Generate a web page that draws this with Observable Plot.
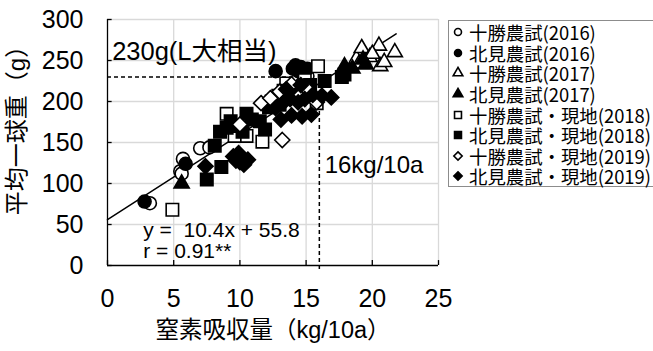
<!DOCTYPE html>
<html><head><meta charset="utf-8">
<script src="https://cdn.jsdelivr.net/npm/d3@7"></script>
<script src="https://cdn.jsdelivr.net/npm/@observablehq/plot@0.6"></script>
<style>
body{margin:0;background:#fff;}
#wrap{position:relative;width:653px;height:351px;overflow:hidden;background:#fff;}
#legend{position:absolute;left:448px;top:20px;width:215px;height:167px;border:1px solid #8c8c8c;box-sizing:border-box;background:#fff;font-family:"Noto Sans CJK JP",sans-serif;font-size:18.4px;color:#000;padding-top:1px;}
.row{height:20.6px;display:flex;align-items:center;white-space:nowrap;overflow:visible;}
.row svg{margin-left:2px;margin-right:4px;flex:none;}
.row span{display:block;height:18px;line-height:18px;}
</style></head>
<body><div id="wrap"><div id="chart"></div><div id="legend"></div></div>
<script>
// ---- data ----
const seriesNames = ["十勝農試(2016)", "北見農試(2016)", "十勝農試(2017)", "北見農試(2017)", "十勝農試・現地(2018)", "北見農試・現地(2018)", "十勝農試・現地(2019)", "北見農試・現地(2019)"];
const tokachi2016 = [[3.2,76],[5.5,115],[5.7,130],[5.6,112],[7.0,143],[7.7,144],[15.1,231],[14.7,222]];
const kitami2016 = [[2.8,78],[5.9,124],[12.7,237],[14.2,244],[14.4,237],[14.6,242],[15.1,240],[14.0,240]];
const tokachi2017 = [[18.8,252],[19.2,265],[19.8,254],[20.5,268],[21.7,260],[20.6,243],[20.9,248],[19.0,246],[20.0,258]];
const kitami2017 = [[5.6,100],[17.9,243],[19.3,251],[19.5,245],[18.5,240]];
const tokachi2018 = [[4.9,68],[9.0,185],[10.5,158],[11.7,151],[9.6,158],[15.9,243],[15.8,198],[14.9,226],[13.5,222]];
const kitami2018 = [[7.5,105],[8.6,120],[8.1,146],[8.5,163],[9.0,168],[9.3,176],[9.8,170],[10.5,185],[10.9,178],[11.5,176],[11.9,166],[10.2,163],[12.4,200],[12.9,207],[13.3,213],[13.7,210],[14.2,215],[14.8,212],[15.3,220],[13.0,196],[12.2,193],[16.4,225],[17.7,230],[17.9,233]];
const tokachi2019 = [[11.6,198],[13.2,153],[10.0,172],[12.3,204],[13.9,221],[14.6,208],[15.2,213],[13.0,212],[15.8,199]];
const kitami2019 = [[7.4,121],[9.5,133],[9.9,137],[10.3,123],[10.6,129],[10.0,126],[9.7,128],[12.7,192],[13.3,199],[13.8,203],[14.4,199],[14.9,203],[15.5,208],[13.5,215],[14.6,220],[13.1,178],[13.9,183],[14.7,182],[15.4,184],[16.2,207],[16.9,205]];
const xTicks = [0,5,10,15,20,25];
const yTicks = [0,50,100,150,200,250,300];
const slope = 10.4, intercept = 55.8;
const trendRange = [0, 21.8];
const guideY = 230, guideYEndX = 14.3;
const guideX = 16, guideXTopY = 201;
const xLabel = "窒素吸収量（kg/10a）";
const yLabel = "平均一球重（g）";
const noteL = "230g(L大相当)";
const noteN = "16kg/10a";
const eqText = "y =\u00a0 10.4x + 55.8";
const rText = "r = 0.91**";

// ---- styles ----
const seriesData = [tokachi2016, kitami2016, tokachi2017, kitami2017, tokachi2018, kitami2018, tokachi2019, kitami2019];
const symbols = ["circle","circle","triangle","triangle","square","square","diamond2","diamond2"];
const filled = [false,true,false,true,false,true,false,true];
const radius = {circle:6.5, triangle:5.6, square:7, diamond2:6.8};

const dotMarks = seriesData.map((arr,i) => Plot.dot(arr.map(d => ({x:d[0], y:d[1]})), {
  x:"x", y:"y", symbol: symbols[i], r: radius[symbols[i]],
  fill: filled[i] ? "black" : "white", stroke: "black", strokeWidth: 1.6
}));

const trend = trendRange.map(x => ({x, y: slope*x + intercept}));

const chart = Plot.plot({
  width: 653, height: 351,
  marginLeft: 107, marginRight: 215, marginTop: 19, marginBottom: 86,
  x: {domain: [0,25], axis: null},
  y: {domain: [0,300], axis: null},
  style: {fontFamily: "'Liberation Sans','Noto Sans CJK JP',sans-serif", fontSize: "24px", color: "black", background: "white", overflow: "visible"},
  marks: [
    Plot.ruleX(xTicks.slice(1), {stroke: "#d9d9d9", strokeWidth: 1.3}),
    Plot.ruleY(yTicks.slice(1), {stroke: "#d9d9d9", strokeWidth: 1.3}),
    Plot.text(xTicks, {x: d => d, y: 0, dy: 33, text: d => String(d), fontSize: 25, textAnchor: "middle"}),
    Plot.text(yTicks, {x: 0, y: d => d, dx: -24, text: d => String(d), fontSize: 25, textAnchor: "end"}),
    Plot.ruleX(xTicks, {y1: 0, y2: 6, stroke: "black", strokeWidth: 1.3}),
    Plot.ruleY(yTicks, {x1: 0, x2: 0.35, stroke: "black", strokeWidth: 1.3}),
    Plot.ruleX([0], {stroke: "black", strokeWidth: 1.3}),
    Plot.ruleY([0], {stroke: "black", strokeWidth: 1.3}),
    Plot.ruleY([guideY], {x1: 0, x2: guideYEndX, stroke: "black", strokeWidth: 1.5, strokeDasharray: "4,3"}),
    Plot.ruleX([guideX], {y1: -5, y2: guideXTopY, stroke: "black", strokeWidth: 1.5, strokeDasharray: "4,3"}),
    Plot.line(trend, {x: "x", y: "y", stroke: "black", strokeWidth: 1.5}),
    ...dotMarks,
    Plot.text([noteL], {x: 0.35, y: 261, text: d => d, textAnchor: "start", fontSize: 25.5}),
    Plot.text([noteN], {x: 16.4, y: 122, text: d => d, textAnchor: "start", fontSize: 24}),
    Plot.text([eqText], {x: 2.7, y: 43, text: d => d, textAnchor: "start", fontSize: 21}),
    Plot.text([rText], {x: 2.7, y: 17, text: d => d, textAnchor: "start", fontSize: 21}),
    Plot.text([xLabel], {frameAnchor: "bottom", dy: 65, text: d => d, fontSize: 23.5, textAnchor: "middle", lineAnchor: "middle"}),
    Plot.text([yLabel], {frameAnchor: "left", dx: -90, dy: -18, rotate: -90, text: d => d, fontSize: 24, textAnchor: "middle", lineAnchor: "middle"})
  ]
});
document.getElementById("chart").appendChild(chart);

// ---- legend ----
const legend = document.getElementById("legend");
const NS = "http://www.w3.org/2000/svg";
seriesNames.forEach((name, i) => {
  const row = document.createElement("div");
  row.className = "row";
  const svg = document.createElementNS(NS, "svg");
  svg.setAttribute("width", 14); svg.setAttribute("height", 14);
  const g = document.createElementNS(NS, "path");
  const sym = {circle: d3.symbolCircle, triangle: d3.symbolTriangle, square: d3.symbolSquare, diamond2: d3.symbolDiamond2 || d3.symbolDiamond}[symbols[i]];
  const size = {circle: 38, triangle: 40, square: 48, diamond2: 44}[symbols[i]];
  g.setAttribute("d", d3.symbol(sym, size)());
  g.setAttribute("transform", "translate(7,7)");
  g.setAttribute("fill", filled[i] ? "black" : "white");
  g.setAttribute("stroke", "black");
  g.setAttribute("stroke-width", 1.6);
  svg.appendChild(g);
  row.appendChild(svg);
  const span = document.createElement("span");
  span.textContent = name;
  row.appendChild(span);
  legend.appendChild(row);
});
</script></body></html>
